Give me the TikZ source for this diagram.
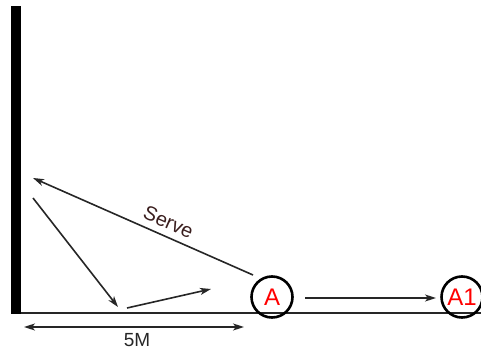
\documentclass[tikz,border=0pt]{standalone}
\usepackage{fontspec}
\setmainfont{Liberation Sans}
\usetikzlibrary{arrows.meta}
\definecolor{servecol}{HTML}{3A1E1E}
\begin{document}
\begin{tikzpicture}[x=1pt,y=-1pt,
  tip/.style={},
  arr/.style={draw=black!85,line width=1.6pt,-{Stealth[length=11pt,width=7pt,inset=3pt]}},
  darr/.style={draw=black!85,line width=1.6pt,{Stealth[length=11pt,width=7pt,inset=3pt]}-{Stealth[length=11pt,width=7pt,inset=3pt]}},
  player/.style={circle,draw=black,line width=2.6pt,minimum size=41pt,inner sep=0pt,text=red,font=\fontsize{24}{24}\selectfont}]
\useasboundingbox (0,0) rectangle (481,352);
\fill[black] (11,6) rectangle (21,314);
\draw[line width=2pt,black!85] (21,313) -- (481,313);
\node[player] (A) at (272,297) {A};
\node[player] (A1) at (462,297) {A1};
\coordinate (s0) at (253,275);
\coordinate (s1) at (33,178);
\coordinate (b0) at (33,198);
\coordinate (b1) at (118,307);
\coordinate (c0) at (127,308);
\coordinate (c1) at (211,289);
\coordinate (m0) at (24,327);
\coordinate (m1) at (244,327);
\draw[arr] (s0) -- node[pos=0.41,sloped,above=3pt,text=servecol,font=\fontsize{20}{20}\selectfont] (serve) {Serve} (s1);
\draw[arr] (b0) -- (b1);
\draw[arr] (c0) -- (c1);
\coordinate (a0) at (305,298);
\coordinate (a1) at (436,298);
\draw[arr] (a0) -- (a1);
\draw[darr] (m0) -- (m1);
\node[font=\fontsize{19}{19}\selectfont,text=black!85] (fm) at (137,340) {5M};
\end{tikzpicture}
\end{document}
